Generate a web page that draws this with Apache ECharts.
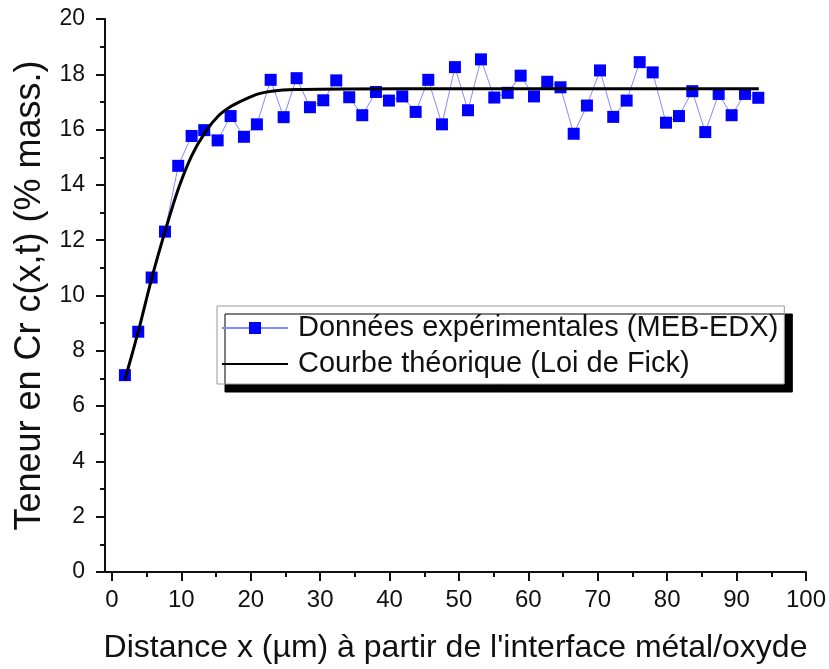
<!DOCTYPE html>
<html>
<head>
<meta charset="utf-8">
<script src="https://cdn.jsdelivr.net/npm/echarts@6/dist/echarts.min.js"></script>
<style>
  html, body { margin: 0; padding: 0; background: #fff; }
  #main { width: 829px; height: 669px; }
</style>
</head>
<body>
<div id="main"></div>
<script>
// distance x (µm) des mesures
var expX = [1.87, 3.79, 5.72, 7.64, 9.55, 11.48, 13.30, 15.23, 17.10, 19.02,
  20.89, 22.87, 24.74, 26.61, 28.53, 30.45, 32.32, 34.19, 36.07, 38.04,
  39.91, 41.83, 43.76, 45.58, 47.55, 49.42, 51.30, 53.17, 55.09, 57.02,
  58.89, 60.81, 62.72, 64.63, 66.53, 68.44, 70.32, 72.23, 74.16, 76.04,
  77.91, 79.83, 81.70, 83.62, 85.49, 87.42, 89.29, 91.21, 93.13];
// teneur en Cr mesurée (% mass.)
var expY = [7.12, 8.69, 10.65, 12.31, 14.69, 15.77, 15.98, 15.61, 16.49, 15.74,
  16.19, 17.80, 16.45, 17.86, 16.81, 17.06, 17.78, 17.17, 16.52, 17.36,
  17.05, 17.20, 16.64, 17.80, 16.19, 18.26, 16.70, 18.54, 17.16, 17.33,
  17.95, 17.20, 17.73, 17.53, 15.85, 16.87, 18.14, 16.46, 17.05, 18.44,
  18.07, 16.25, 16.49, 17.39, 15.91, 17.29, 16.52, 17.29, 17.15];
// courbe théorique
var fickX = [1.87, 3.79, 5.72, 7.64, 9.56, 11.48, 13.4, 15.32, 17.24, 19.16, 21.08, 23.0, 26.4, 33.6, 50, 70, 93.2];
var fickY = [6.95, 8.69, 10.61, 12.31, 13.85, 15.05, 15.89, 16.49, 16.85, 17.09, 17.29, 17.39, 17.45, 17.47, 17.48, 17.48, 17.48];

var xTicks = [0, 10, 20, 30, 40, 50, 60, 70, 80, 90, 100];
var xMinorTicks = [5, 15, 25, 35, 45, 55, 65, 75, 85, 95];

var serieExp = 'Données expérimentales (MEB-EDX)';
var serieFick = 'Courbe théorique (Loi de Fick)';
var font = "'Liberation Sans', Arial, sans-serif";

var expData = [];
for (var i = 0; i < expX.length; i++) expData.push([expX[i], expY[i]]);
var fickData = [];
for (var j = 0; j < fickX.length; j++) fickData.push([fickX[j], fickY[j]]);

var myChart = echarts.init(document.getElementById('main'));
var option = {
  backgroundColor: '#fff',
  animation: false,
  grid: { left: 105, right: 23, top: 19, bottom: 94 },
  legend: {
    data: [
      { name: serieExp },
      { name: serieFick, itemStyle: { opacity: 0 } }
    ],
    orient: 'vertical',
    left: 217,
    top: 306,
    itemWidth: 66,
    itemHeight: 15,
    itemGap: 6,
    padding: [7, 6, 5, 4],
    backgroundColor: '#fff',
    borderColor: '#999',
    borderWidth: 1,
    shadowColor: '#000',
    shadowBlur: 0,
    shadowOffsetX: 8,
    shadowOffsetY: 8,
    textStyle: { fontSize: 29, color: '#111', fontFamily: font, lineHeight: 30, padding: [0, 0, 0, 5] }
  },
  xAxis: [
    {
      type: 'value',
      min: -1,
      max: 100,
      name: "Distance x (µm) à partir de l'interface métal/oxyde",
      nameLocation: 'middle',
      nameGap: 60,
      nameTextStyle: { fontSize: 32, color: '#111', fontFamily: font },
      axisLine: { show: true, onZero: false, lineStyle: { color: '#111', width: 2 } },
      axisTick: { show: true, customValues: xTicks, length: 9, lineStyle: { color: '#111', width: 2 } },
      axisLabel: { customValues: xTicks, margin: 16, fontSize: 24, color: '#111', fontFamily: font },
      splitLine: { show: false }
    },
    {
      type: 'value',
      min: -1,
      max: 100,
      position: 'bottom',
      axisLine: { show: false },
      axisTick: { show: true, customValues: xMinorTicks, length: 5, lineStyle: { color: '#111', width: 2 } },
      axisLabel: { show: false, customValues: xMinorTicks },
      splitLine: { show: false }
    }
  ],
  yAxis: {
    type: 'value',
    min: 0,
    max: 20,
    interval: 2,
    name: 'Teneur en Cr c(x,t) (% mass.)',
    nameLocation: 'middle',
    nameGap: 57,
    nameTextStyle: { fontSize: 36, color: '#111', fontFamily: font },
    axisLine: { show: true, onZero: false, lineStyle: { color: '#111', width: 2 } },
    axisTick: { show: true, length: 9, lineStyle: { color: '#111', width: 2 } },
    minorTick: { show: true, splitNumber: 2, length: 5, lineStyle: { color: '#111', width: 2 } },
    axisLabel: { margin: 20, fontSize: 23, color: '#111', fontFamily: font },
    splitLine: { show: false }
  },
  series: [
    {
      name: serieExp,
      type: 'line',
      data: expData,
      symbol: 'rect',
      symbolSize: 12,
      itemStyle: { color: '#0000ff' },
      lineStyle: { color: '#8888ff', width: 1 },
      z: 2
    },
    {
      name: serieFick,
      type: 'line',
      data: fickData,
      smooth: 0.25,
      symbol: 'none',
      itemStyle: { color: '#000' },
      lineStyle: { color: '#000', width: 3 },
      z: 3
    }
  ]
};
myChart.setOption(option);
</script>
</body>
</html>
